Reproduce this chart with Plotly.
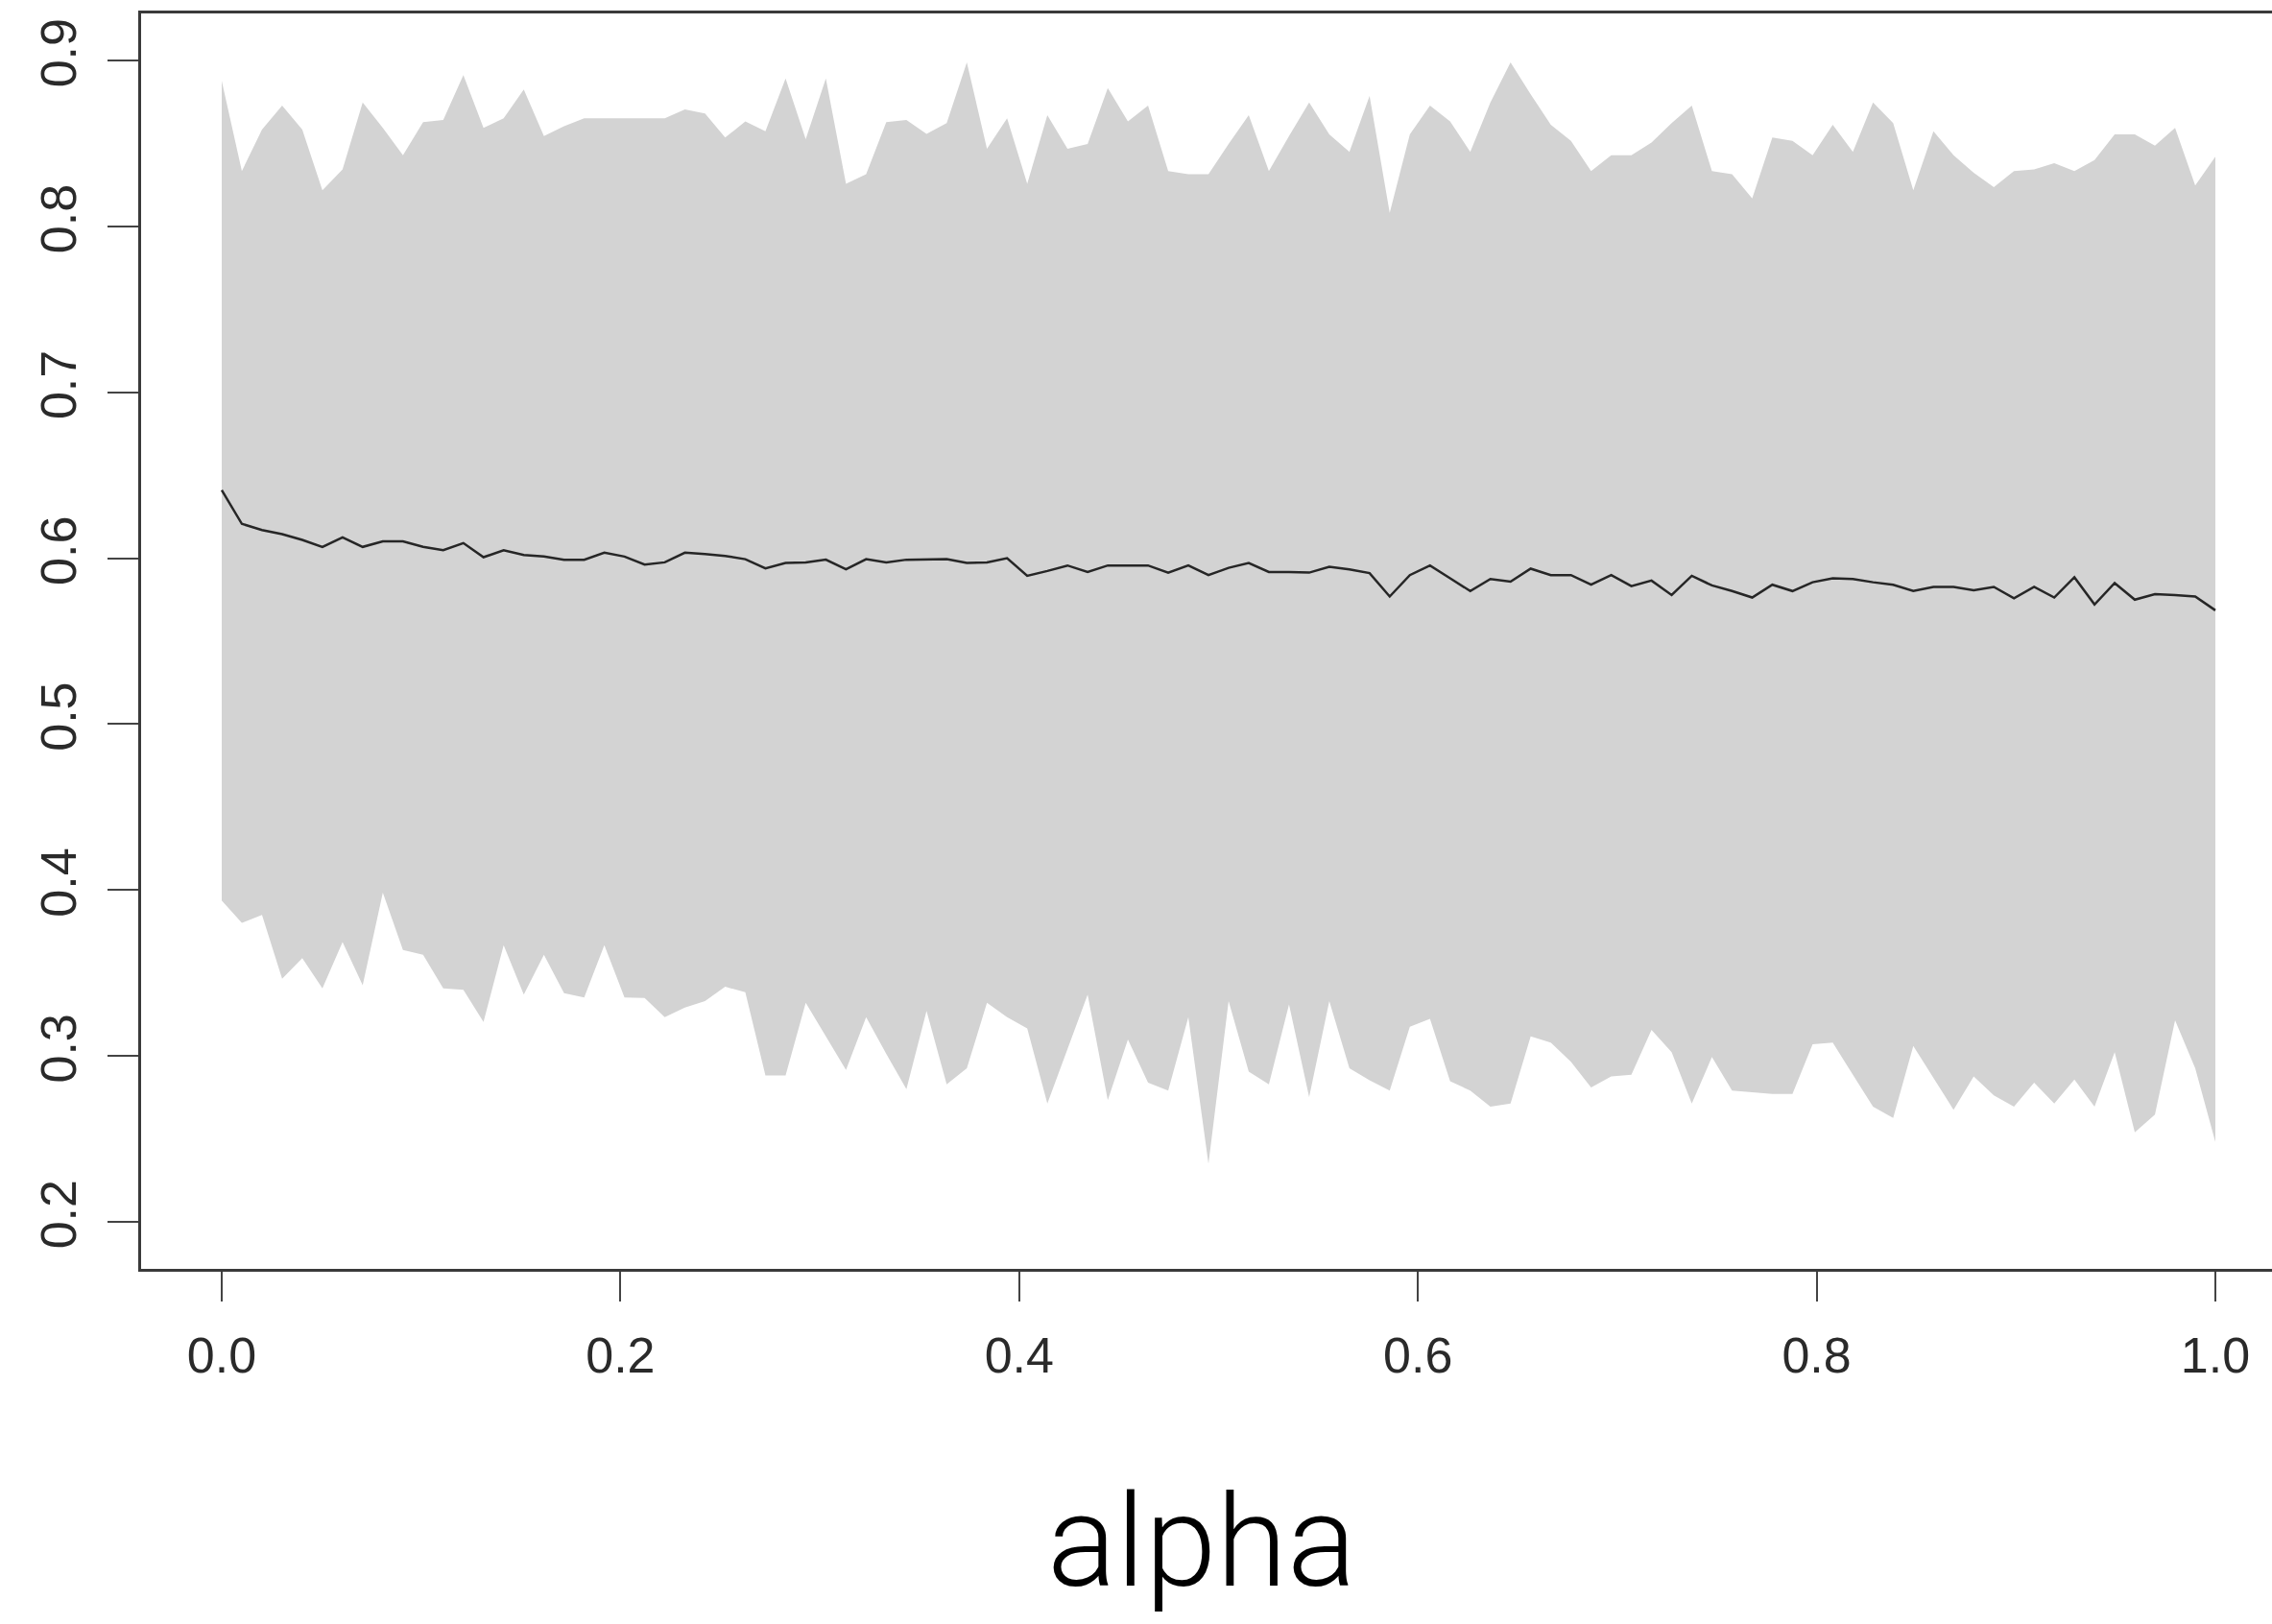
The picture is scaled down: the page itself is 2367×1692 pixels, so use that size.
import numpy as np
import plotly.graph_objects as go

# alpha grid (100 evenly spaced values from 0 to 1)
alpha = np.linspace(0.0, 1.0, 100)

upper = [
    0.8877, 0.8333, 0.8584, 0.8728, 0.8584, 0.8217, 0.8343, 0.8747, 0.8593, 0.8429,
    0.8628, 0.8641, 0.8911, 0.8593, 0.8651, 0.8825, 0.8545, 0.8603, 0.8651, 0.8651,
    0.8651, 0.8651, 0.8651, 0.8705, 0.8680, 0.8535, 0.8632, 0.8574, 0.8892, 0.8526,
    0.8892, 0.8256, 0.8314, 0.8628, 0.8641, 0.8558, 0.8622, 0.8988, 0.8468, 0.8651,
    0.8256, 0.8670, 0.8468, 0.8497, 0.8834, 0.8632, 0.8728, 0.8333, 0.8314, 0.8314,
    0.8497, 0.8670, 0.8333, 0.8545, 0.8747, 0.8555, 0.8449, 0.8786, 0.8082, 0.8555,
    0.8728, 0.8632, 0.8449, 0.8747, 0.8988, 0.8796, 0.8612, 0.8516, 0.8333, 0.8429,
    0.8429, 0.8506, 0.8622, 0.8728, 0.8333, 0.8314, 0.8169, 0.8535, 0.8516, 0.8429,
    0.8612, 0.8449, 0.8747, 0.8622, 0.8217, 0.8574, 0.8429, 0.8323, 0.8237, 0.8333,
    0.8343, 0.8381, 0.8333, 0.8400, 0.8555, 0.8555, 0.8487, 0.8593, 0.8246, 0.8420,
]

lower = [
    0.3937, 0.3802, 0.3850, 0.3465, 0.3590, 0.3407, 0.3687, 0.3426, 0.3985, 0.3638,
    0.3610, 0.3407, 0.3398, 0.3205, 0.3668, 0.3369, 0.3610, 0.3378, 0.3353, 0.3668,
    0.3353, 0.3349, 0.3234, 0.3292, 0.3330, 0.3417, 0.3384, 0.2883, 0.2883, 0.3320,
    0.3118, 0.2916, 0.3234, 0.3012, 0.2800, 0.3272, 0.2829, 0.2925, 0.3320, 0.3234,
    0.3166, 0.2713, 0.3041, 0.3369, 0.2733, 0.3099, 0.2839, 0.2791, 0.3234, 0.2350,
    0.3330, 0.2906, 0.2829, 0.3311, 0.2752, 0.3330, 0.2925, 0.2854, 0.2791, 0.3176,
    0.3224, 0.2848, 0.2791, 0.2694, 0.2713, 0.3118, 0.3080, 0.2964, 0.2810, 0.2877,
    0.2887, 0.3157, 0.3022, 0.2713, 0.2993, 0.2791, 0.2781, 0.2771, 0.2771, 0.3070,
    0.3080, 0.2887, 0.2694, 0.2627, 0.3060, 0.2868, 0.2675, 0.2877, 0.2762, 0.2694,
    0.2839, 0.2713, 0.2858, 0.2694, 0.3022, 0.2540, 0.2646, 0.3215, 0.2925, 0.2482,
]

mean = [
    0.6410, 0.6207, 0.6170, 0.6145, 0.6110, 0.6068, 0.6126, 0.6068, 0.6102, 0.6102,
    0.6068, 0.6048, 0.6091, 0.6006, 0.6048, 0.6019, 0.6010, 0.5991, 0.5991, 0.6033,
    0.6010, 0.5962, 0.5975, 0.6033, 0.6025, 0.6014, 0.5994, 0.5939, 0.5971, 0.5975,
    0.5991, 0.5933, 0.5994, 0.5975, 0.5991, 0.5994, 0.5994, 0.5971, 0.5975, 0.6000,
    0.5894, 0.5923, 0.5956, 0.5917, 0.5956, 0.5956, 0.5956, 0.5913, 0.5956, 0.5898,
    0.5942, 0.5971, 0.5917, 0.5917, 0.5913, 0.5948, 0.5933, 0.5910, 0.5769, 0.5898,
    0.5956, 0.5879, 0.5802, 0.5875, 0.5859, 0.5937, 0.5898, 0.5898, 0.5840, 0.5898,
    0.5832, 0.5865, 0.5778, 0.5894, 0.5836, 0.5802, 0.5763, 0.5840, 0.5802, 0.5855,
    0.5879, 0.5875, 0.5855, 0.5840, 0.5802, 0.5827, 0.5827, 0.5807, 0.5827, 0.5759,
    0.5827, 0.5763, 0.5885, 0.5721, 0.5850, 0.5750, 0.5783, 0.5778, 0.5769, 0.5686,
]

x_ticks = [0.0, 0.2, 0.4, 0.6, 0.8, 1.0]
x_tick_labels = ["0.0", "0.2", "0.4", "0.6", "0.8", "1.0"]
y_ticks = [0.2, 0.3, 0.4, 0.5, 0.6, 0.7, 0.8, 0.9]
y_tick_labels = ["0.2", "0.3", "0.4", "0.5", "0.6", "0.7", "0.8", "0.9"]
x_label = "alpha"

fig = go.Figure()

band_x = list(alpha) + list(alpha[::-1])
band_y = list(upper) + list(lower[::-1])
fig.add_trace(go.Scatter(
    x=band_x, y=band_y, fill="toself", mode="lines",
    line=dict(width=0, color="#d3d3d3"), fillcolor="#d3d3d3",
    hoverinfo="skip", showlegend=False,
))
fig.add_trace(go.Scatter(
    x=alpha, y=mean, mode="lines",
    line=dict(color="#262626", width=2.5),
    showlegend=False,
))

tick_font = dict(family="Liberation Sans, Arial, sans-serif", size=52, color="#2a2a2a")

fig.update_layout(
    width=2367, height=1692,
    margin=dict(l=147, r=0, t=14, b=370, pad=0),
    paper_bgcolor="white", plot_bgcolor="white",
    showlegend=False,
    xaxis=dict(
        range=[-0.04044, 1.02841], tickmode="array",
        tickvals=x_ticks, ticktext=x_tick_labels,
        showgrid=False, zeroline=False,
        showline=True, linecolor="#3a3a3a", linewidth=2.5, mirror=True,
        ticks="outside", ticklen=31, tickwidth=2, tickcolor="#444",
        tickfont=tick_font, ticklabelstandoff=12,
    ),
    yaxis=dict(
        range=[0.17166, 0.92834], tickmode="array",
        tickvals=y_ticks, ticktext=y_tick_labels,
        showgrid=False, zeroline=False,
        showline=True, linecolor="#3a3a3a", linewidth=2.5, mirror=False,
        ticks="outside", ticklen=32, tickwidth=2, tickcolor="#444",
        tickfont=tick_font, tickangle=-90, ticklabelstandoff=12,
    ),
    annotations=[dict(
        text=x_label, xref="paper", yref="paper",
        x=(1252 - 147) / 2220, y=(1322 - 1606) / 1308,
        xanchor="center", yanchor="middle", showarrow=False,
        borderpad=0,
        font=dict(family="Roboto, Helvetica Neue, sans-serif", size=134,
                  color="black", weight=300),
    )],
)

fig.write_html("out.html")
